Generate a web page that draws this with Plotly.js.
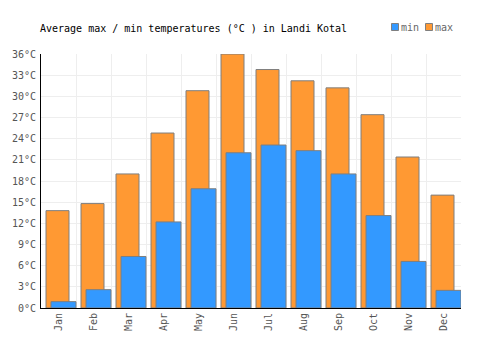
<!DOCTYPE html>
<html>
<head>
<meta charset="utf-8">
<script src="https://cdn.plot.ly/plotly-3.0.1.min.js"></script>
<style>html,body{margin:0;padding:0;background:#fff;}#chart{width:500px;height:350px;}</style>
</head>
<body>
<div id="chart"></div>
<script>
const months = ["Jan","Feb","Mar","Apr","May","Jun","Jul","Aug","Sep","Oct","Nov","Dec"];
const maxTemps = [13.8, 14.8, 19.0, 24.8, 30.8, 36.0, 33.8, 32.2, 31.2, 27.4, 21.4, 16.0];
const minTemps = [0.9, 2.6, 7.3, 12.2, 16.9, 22.0, 23.1, 22.3, 19.0, 13.1, 6.6, 2.5];
const seriesNames = ["min", "max"];
const seriesColors = ["#3399ff", "#ff9933"];

const FONT = "DejaVu Sans Mono, monospace";
const OUTLINE = "#7f7f7f";

const traces = [
  {
    type: "bar", name: seriesNames[1], x: months, y: maxTemps,
    offset: -0.357, width: 0.657,
    marker: {color: seriesColors[1], line: {color: OUTLINE, width: 1}},
    hoverinfo: "skip"
  },
  {
    type: "bar", name: seriesNames[0], x: months, y: minTemps,
    offset: -0.214, width: 0.714,
    marker: {color: seriesColors[0], line: {color: OUTLINE, width: 1}},
    hoverinfo: "skip"
  }
];

// custom compact legend (plot area: x 41..461, y 54..308 px)
const PL = 41, PW = 420, PB = 308, PH = 254;
const px = v => (v - PL) / PW;
const py = v => (PB - v) / PH;
const legendX = [391.5, 425.5];
const shapes = [], annotations = [];
seriesNames.forEach((n, i) => {
  shapes.push({
    type: "rect", xref: "paper", yref: "paper",
    x0: px(legendX[i]), x1: px(legendX[i] + 7), y0: py(30.5), y1: py(23.5),
    fillcolor: seriesColors[i], line: {color: OUTLINE, width: 1}
  });
  annotations.push({
    xref: "paper", yref: "paper", x: px(legendX[i] + 8), y: py(27.5),
    xanchor: "left", yanchor: "middle", showarrow: false, text: n,
    font: {family: FONT, size: 10, color: "#666"}, borderpad: 0
  });
});

const layout = {
  width: 500, height: 350,
  margin: {l: 41, r: 39, t: 54, b: 42},
  paper_bgcolor: "#fff", plot_bgcolor: "#fff",
  barmode: "overlay",
  font: {family: FONT, size: 10, color: "#555"},
  title: {
    text: "Average max / min temperatures (°C ) in Landi Kotal",
    font: {family: FONT, size: 10, color: "#000"},
    xref: "container", x: 0.08, xanchor: "left",
    yref: "container", y: 0.92, yanchor: "middle"
  },
  showlegend: false,
  shapes: shapes,
  annotations: annotations,
  xaxis: {
    type: "category", range: [-0.5, 11.5],
    tickson: "boundaries", ticks: "",
    showgrid: true, gridcolor: "#eeeeee", gridwidth: 1,
    showline: true, linecolor: "#000", linewidth: 1,
    tickangle: -90, tickfont: {family: FONT, size: 10, color: "#555"},
    fixedrange: true
  },
  yaxis: {
    range: [0, 36], dtick: 3, tick0: 0, ticksuffix: "°C",
    showgrid: true, gridcolor: "#eeeeee", gridwidth: 1,
    showline: true, linecolor: "#000", linewidth: 1,
    zeroline: false, ticks: "", ticklabelstandoff: 2,
    tickfont: {family: FONT, size: 10, color: "#555"},
    fixedrange: true
  },
  hovermode: false
};

Plotly.newPlot("chart", traces, layout, {displayModeBar: false, staticPlot: true});
</script>
</body>
</html>
